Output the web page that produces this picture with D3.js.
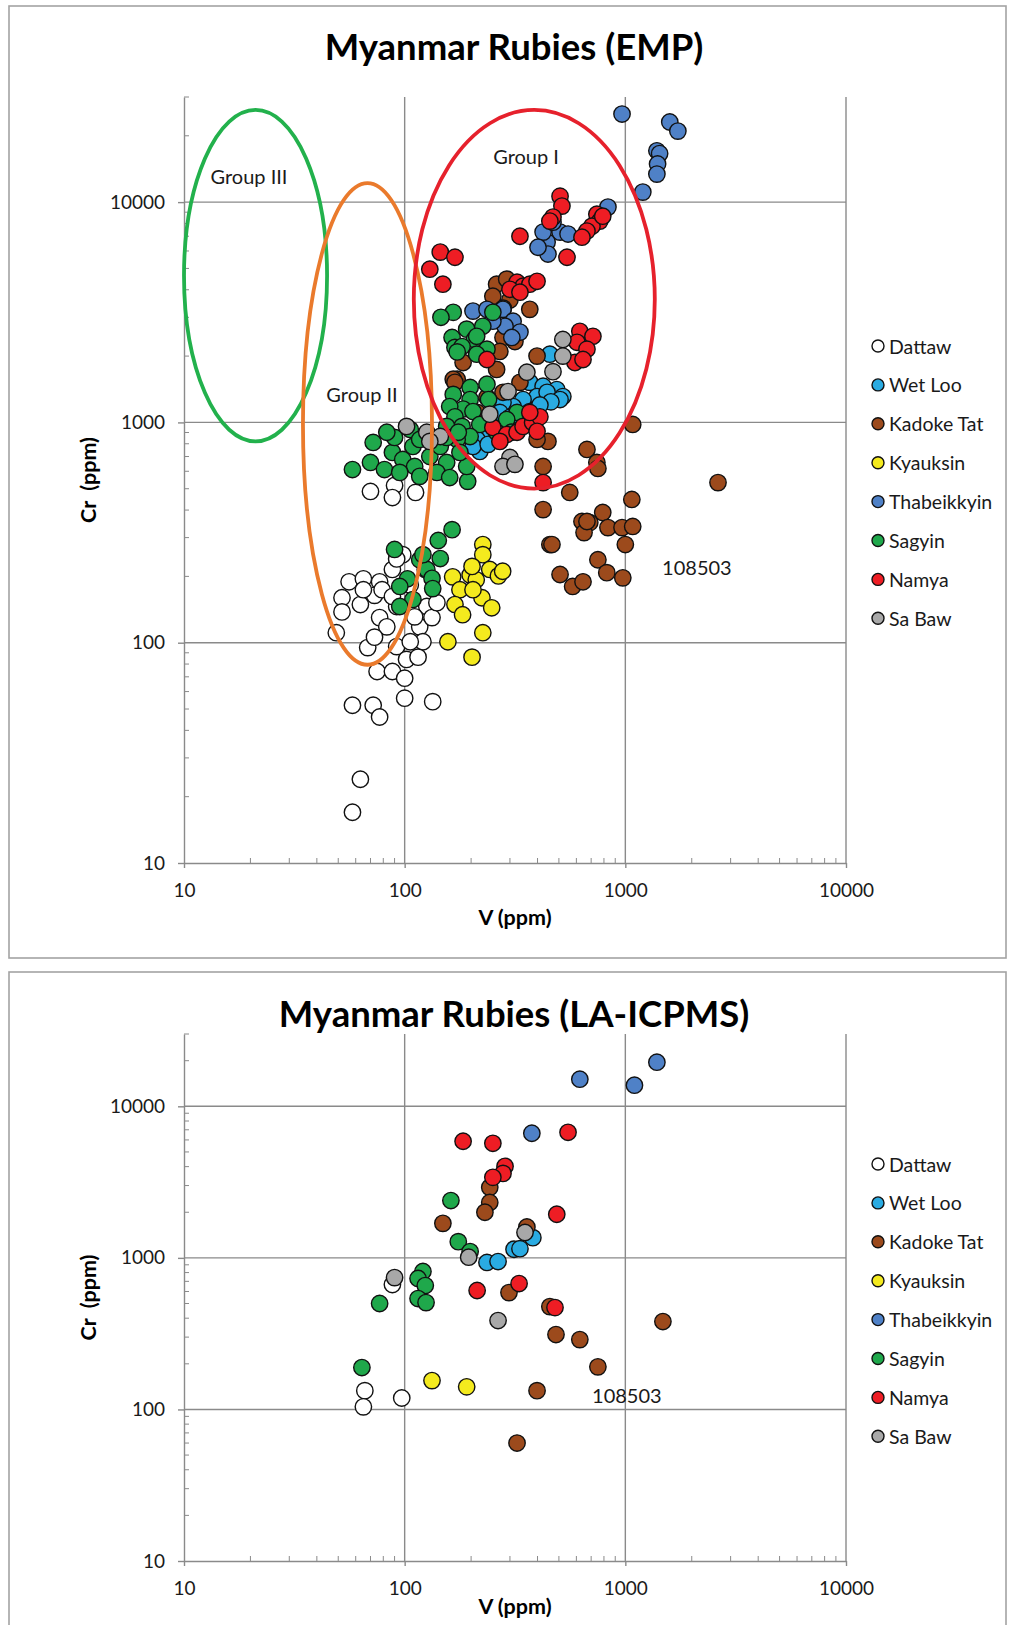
<!DOCTYPE html>
<html>
<head>
<script src="https://d3js.org/d3.v7.min.js"></script>
<style>
    html, body { margin: 0; padding: 0; background: #fff; }
    svg { display: block; font-family: Lato, "Open Sans", sans-serif; }
</style>
</head>
<body>
<div id="wrapper"></div>
<script>
// axes
var xTicks = [10, 100, 1000, 10000];
var yTicks = [10, 100, 1000, 10000];
var seriesNames = ['Dattaw', 'Wet Loo', 'Kadoke Tat', 'Kyauksin', 'Thabeikkyin', 'Sagyin', 'Namya', 'Sa Baw'];
var seriesColors = ['#ffffff', '#2aabe2', '#9c4a1c', '#f4ea1e', '#4f81c7', '#1fa84b', '#ee1d24', '#a8a8a8'];

// EMP data, [V ppm, Cr ppm]
var empDattaw = [[70,486],[90,517],[88,456],[112,481],[56,189],[65,195],[77,189],[52,160],[63,149],[73,164],[88,215],[98,251],[92,146],[77,130],[83,118],[117,118],[126,146],[121,101],[49,111],[68,95],[73,106],[92,96],[102,84],[115,86],[75,74],[88,74],[100,69],[100,56],[58,52],[72,52],[77,46],[134,54],[111,131],[133,130],[65,174],[140,152],[63,24],[58,17],[106,183],[124,215],[92,240],[79,174],[88,162],[106,101],[52,138]];
var empWetLoo = [[455,2040],[369,1520],[424,1460],[489,1410],[521,1310],[398,1310],[344,1270],[310,1180],[279,1230],[270,1110],[236,902],[213,837],[219,738],[204,778],[442,1370],[506,1270],[369,1120],[300,1054],[239,795],[460,1240],[410,1200]];
var empKadoke = [[261,4240],[290,4470],[251,3740],[369,3260],[300,3600],[280,3300],[279,2430],[316,2330],[270,2100],[184,1870],[261,1740],[173,1570],[398,2000],[333,1520],[279,1370],[236,1300],[213,1110],[446,820],[398,837],[670,754],[424,631],[560,481],[743,658],[1080,979],[751,618],[1070,447],[790,390],[636,355],[690,351],[650,316],[834,333],[966,333],[1080,337],[1000,279],[455,279],[751,238],[824,208],[974,197],[506,204],[577,180],[643,189],[2630,533],[424,402],[465,279],[166,1570],[169,1520],[670,355]];
var empKyauksin = [[165,199],[198,203],[226,279],[226,251],[243,215],[266,201],[211,193],[178,174],[169,149],[183,134],[224,160],[248,144],[202,222],[226,111],[157,101],[202,86],[278,211],[204,174]];
var empThab = [[966,25100],[1590,23100],[1730,21000],[1390,17100],[1430,16600],[1400,14900],[1390,13400],[1200,11100],[834,9490],[751,8630],[506,7310],[442,6580],[424,7310],[470,8110],[446,5810],[550,7160],[402,6240],[204,3200],[236,3260],[279,3260],[310,2880],[333,2570],[285,2730],[306,2430],[251,2880]];
var empSagyin = [[90,265],[164,326],[142,291],[145,241],[117,238],[126,215],[133,196],[134,176],[103,195],[95,180],[109,157],[95,146],[121,251],
    [166,3160],[191,2650],[226,2730],[251,3160],[164,2430],[169,2190],[207,2380],[236,2150],[212,2040],[182,2210],[212,2460],[173,2090],[236,1490],[198,1440],[166,1340],[198,1270],[184,1150],[160,1180],[169,1060],[204,1120],[182,959],[155,959],[219,979],[198,863],[173,837],[323,1110],[290,1030],[305,902],[261,902],
    [58,611],[70,658],[72,811],[81,611],[88,731],[90,855],[106,929],[109,778],[98,679],[111,631],[95,593],[117,569],[130,700],[145,778],[155,658],[140,593],[160,562],[193,540],[191,631],[178,731],[130,837],[117,837],[83,902],[155,855],[175,902],[146,3000],[240,1270]];
var empNamya = [[506,10640],[516,9590],[470,8550],[455,8200],[333,7000],[544,5620],[743,8810],[766,8200],[706,7780],[670,7390],[636,6930],[790,8630],[145,5930],[169,5620],[130,4960],[149,4240],[323,4330],[344,4150],[369,4240],[300,4020],[398,4370],[333,3900],[236,1930],[622,2590],[713,2460],[604,2310],[670,2150],[591,1870],[643,1930],[251,949],[290,881],[323,902],[344,959],[380,1000],[410,1060],[369,1110],[270,820],[398,911],[424,533]];
var empSaBaw = [[521,2380],[521,2000],[358,1690],[294,1380],[470,1700],[243,1090],[300,693],[279,631],[316,645],[102,959],[126,902],[145,863],[130,820]];

// LA-ICPMS data, [V ppm, Cr ppm]
var laDattaw = [[88,667],[66,133],[97,119],[65,104]];
var laWetLoo = [[236,933],[265,946],[313,1140],[333,1150],[381,1360]];
var laKadoke = [[243,2920],[243,2320],[231,2000],[149,1690],[297,590],[455,477],[485,312],[622,289],[751,191],[398,133],[323,60],[1480,380],[358,1600]];
var laKyauksin = [[133,155],[191,141]];
var laThab = [[622,15100],[1100,13780],[1390,19550],[377,6640]];
var laSagyin = [[162,2390],[175,1280],[198,1100],[121,813],[115,731],[124,657],[115,539],[125,507],[77,500],[64,189]];
var laNamya = [[184,5880],[251,5700],[550,6740],[285,4020],[279,3610],[251,3400],[489,1940],[213,609],[330,677],[480,470]];
var laSaBaw = [[195,1010],[351,1470],[265,386],[90,741]];

// group outlines: [Vmin, Vmax, Crmin, Crmax]
var groupNames = ['Group III', 'Group II', 'Group I'];
var groupBounds = [[10, 44.5, 820, 26200], [34.6, 133, 79.4, 12200], [110, 1360, 501, 26200]];
var groupColors = ['#22b14c', '#ea7a2c', '#e6212c'];
var groupLabelPos = [[19.7, 13100], [64.1, 1340], [355, 16200]];

var svg = d3.select('#wrapper').append('svg')
    .attr('width', 1010)
    .attr('height', 1625);

var x = d3.scaleLog().domain([10, 10000]).range([184, 846]);

function minorTicks() {
    var out = [];
    [10, 100, 1000].forEach(function(dec) {
        for (var k = 2; k < 10; k++) out.push(dec * k);
    });
    return out;
}

function drawPanel(p) {
    var g = svg.append('g');
    var y = d3.scaleLog().domain([10, 30000]).range([p.bottom, p.top]);

    g.append('rect')
        .attr('x', 9).attr('y', p.boxTop)
        .attr('width', 997).attr('height', p.boxH)
        .attr('fill', 'none').attr('stroke', '#a3a3a3').attr('stroke-width', 1.6);

    g.append('text')
        .attr('x', 514).attr('y', p.titleY)
        .attr('text-anchor', 'middle')
        .attr('font-size', 36.5).attr('font-weight', 'bold')
        .text(p.title);

    // grid
    g.selectAll('.gx').data(xTicks.slice(1)).join('line')
        .attr('x1', d => x(d)).attr('x2', d => x(d))
        .attr('y1', y(30000)).attr('y2', p.bottom)
        .attr('stroke', '#8a8a8a').attr('stroke-width', 1.4);
    g.selectAll('.gy').data(yTicks.slice(1)).join('line')
        .attr('x1', x(10)).attr('x2', x(10000))
        .attr('y1', d => y(d)).attr('y2', d => y(d))
        .attr('stroke', '#8a8a8a').attr('stroke-width', 1.4);

    // minor ticks, inside
    g.selectAll('.mx').data(minorTicks()).join('line')
        .attr('x1', d => x(d)).attr('x2', d => x(d))
        .attr('y1', p.bottom).attr('y2', p.bottom - 5)
        .attr('stroke', '#8a8a8a').attr('stroke-width', 1);
    g.selectAll('.my').data(minorTicks().concat([20000, 30000])).join('line')
        .attr('x1', x(10)).attr('x2', x(10) + 5)
        .attr('y1', d => y(d)).attr('y2', d => y(d))
        .attr('stroke', '#8a8a8a').attr('stroke-width', 1);

    var xAxis = g.append('g')
        .attr('transform', 'translate(0,' + p.bottom + ')')
        .call(d3.axisBottom(x).tickValues(xTicks).tickFormat(d3.format('d')).tickSize(5).tickSizeOuter(0).tickPadding(16));
    var yAxis = g.append('g')
        .attr('transform', 'translate(' + x(10) + ',0)')
        .call(d3.axisLeft(y).tickValues(yTicks).tickFormat(d3.format('d')).tickSize(6).tickSizeOuter(0).tickPadding(13));
    [xAxis, yAxis].forEach(function(a) {
        a.select('.domain').attr('stroke', '#8a8a8a').attr('stroke-width', 1.4);
        a.selectAll('.tick line').attr('stroke', '#8a8a8a').attr('stroke-width', 1.4);
        a.selectAll('.tick text').attr('font-size', 19).attr('fill', '#1a1a1a').attr('font-family', 'Lato');
    });

    g.append('text')
        .attr('x', 515).attr('y', p.bottom + p.xTitleGap)
        .attr('text-anchor', 'middle')
        .attr('font-size', 21.5).attr('font-weight', 'bold')
        .text('V (ppm)');
    g.append('text')
        .attr('transform', 'translate(96,' + ((p.top + p.bottom) / 2) + ') rotate(-90)')
        .attr('text-anchor', 'middle')
        .attr('font-size', 21.5).attr('font-weight', 'bold')
        .attr('xml:space', 'preserve')
        .text('Cr  (ppm)');

    // points, series in legend order
    p.series.forEach(function(s, i) {
        g.append('g').selectAll('circle').data(s).join('circle')
            .attr('cx', d => x(d[0]))
            .attr('cy', d => y(d[1]))
            .attr('r', 8.2)
            .attr('fill', seriesColors[i])
            .attr('stroke', '#111')
            .attr('stroke-width', 1.4);
    });

    if (p.groups) {
        g.selectAll('.grp').data(groupBounds).join('ellipse')
            .attr('cx', d => (x(d[0]) + x(d[1])) / 2)
            .attr('cy', d => (y(d[2]) + y(d[3])) / 2)
            .attr('rx', d => (x(d[1]) - x(d[0])) / 2)
            .attr('ry', d => (y(d[2]) - y(d[3])) / 2)
            .attr('fill', 'none')
            .attr('stroke', (d, i) => groupColors[i])
            .attr('stroke-width', 3.8);
        g.selectAll('.glab').data(groupLabelPos).join('text')
            .attr('x', d => x(d[0])).attr('y', d => y(d[1]))
            .attr('text-anchor', 'middle').attr('dominant-baseline', 'central')
            .attr('font-size', 20).attr('fill', '#1a1a1a')
            .text((d, i) => groupNames[i]);
    }

    g.append('text')
        .attr('x', x(p.noteAt[0])).attr('y', y(p.noteAt[1]))
        .attr('text-anchor', 'middle').attr('dominant-baseline', 'central')
        .attr('font-size', 20).attr('fill', '#1a1a1a')
        .text('108503');

    // legend
    var leg = g.selectAll('.leg').data(seriesNames).join('g')
        .attr('transform', (d, i) => 'translate(878,' + (p.legendY + i * 38.9) + ')');
    leg.append('circle').attr('r', 6)
        .attr('fill', (d, i) => seriesColors[i])
        .attr('stroke', '#111').attr('stroke-width', 1.4);
    leg.append('text').attr('x', 11).attr('dominant-baseline', 'central')
        .attr('font-size', 19.5).attr('fill', '#1a1a1a')
        .text(d => d);
}

drawPanel({
    boxTop: 6, boxH: 952, title: 'Myanmar Rubies (EMP)', titleY: 60,
    top: 97, bottom: 863, legendY: 346, groups: true, noteAt: [2110, 221], xTitleGap: 62,
    series: [empDattaw, empWetLoo, empKadoke, empKyauksin, empThab, empSagyin, empNamya, empSaBaw]
});
drawPanel({
    boxTop: 972, boxH: 670, title: 'Myanmar Rubies (LA-ICPMS)', titleY: 1027,
    top: 1034, bottom: 1561, legendY: 1164, groups: false, noteAt: [1016, 125], xTitleGap: 53,
    series: [laDattaw, laWetLoo, laKadoke, laKyauksin, laThab, laSagyin, laNamya, laSaBaw]
});
</script>
</body>
</html>
